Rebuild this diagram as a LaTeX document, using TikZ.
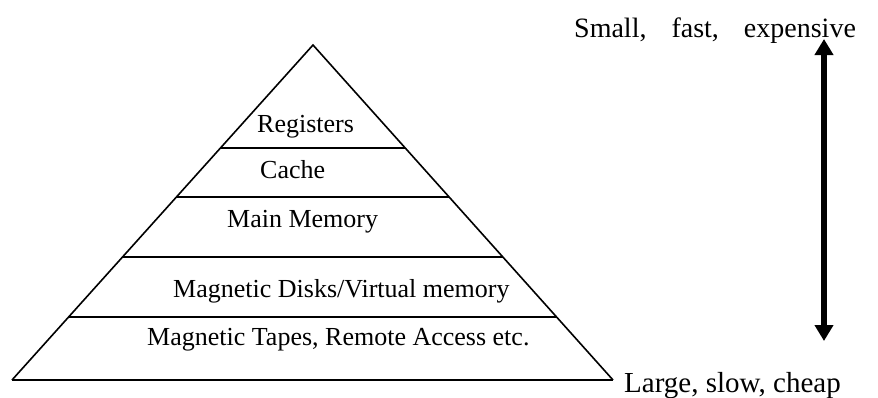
\documentclass[tikz,border=0pt]{standalone}
\usepackage{fontspec}
\setmainfont{Liberation Serif}
\usetikzlibrary{arrows.meta}
\begin{document}
\begin{tikzpicture}[x=1pt,y=-1pt,
  side/.style={line width=1.6pt,line join=miter},
  baseline/.style={line width=2.4pt},
  layerline/.style={line width=1.8pt},
  lbl/.style={anchor=base west,inner sep=0pt,font=\fontsize{26}{30}\selectfont},
  outer/.style={anchor=base west,inner sep=0pt,font=\fontsize{28}{32}\selectfont},
  bigarrow/.style={line width=6pt,{Triangle[width=18pt,length=16pt]}-{Triangle[width=18pt,length=16pt]}}]
\useasboundingbox (0,0) rectangle (878,397);
% pyramid
\coordinate (apex) at (313,45);
\coordinate (bl) at (12,380);
\coordinate (br) at (613,380);
\draw[side] (bl) -- (apex) -- (br);
\draw[baseline] (bl) -- (br);
% layer separators
\coordinate (l1a) at (220.5,148); \coordinate (l1b) at (405,148);
\coordinate (l2a) at (176.4,197); \coordinate (l2b) at (449,197);
\coordinate (l3a) at (122.5,257); \coordinate (l3b) at (503,257);
\coordinate (l4a) at (68.6,317);  \coordinate (l4b) at (557,317);
\draw[layerline] (l1a) -- (l1b);
\draw[layerline] (l2a) -- (l2b);
\draw[layerline] (l3a) -- (l3b);
\draw[layerline] (l4a) -- (l4b);
% labels
\node[lbl] (reg) at (257,132) {Registers};
\node[lbl] (cache) at (260,178) {Cache};
\node[lbl] (main) at (227,227) {Main Memory};
\node[lbl] (disk) at (173,297) {Magnetic Disks/Virtual memory};
\node[lbl] (tape) at (147,345) {Magnetic Tapes, Remote Access etc.};
% outer labels
\node[outer] (top) at (574,37) {Small,\hspace{25pt}fast,\hspace{25pt}expensive};
\node[outer,font=\fontsize{29}{33}\selectfont] (bottom) at (624,392) {Large, slow, cheap};
% arrow
\coordinate (atop) at (824,39);
\coordinate (abot) at (824,341);
\draw[bigarrow] (atop) -- (abot);
\end{tikzpicture}
\end{document}
